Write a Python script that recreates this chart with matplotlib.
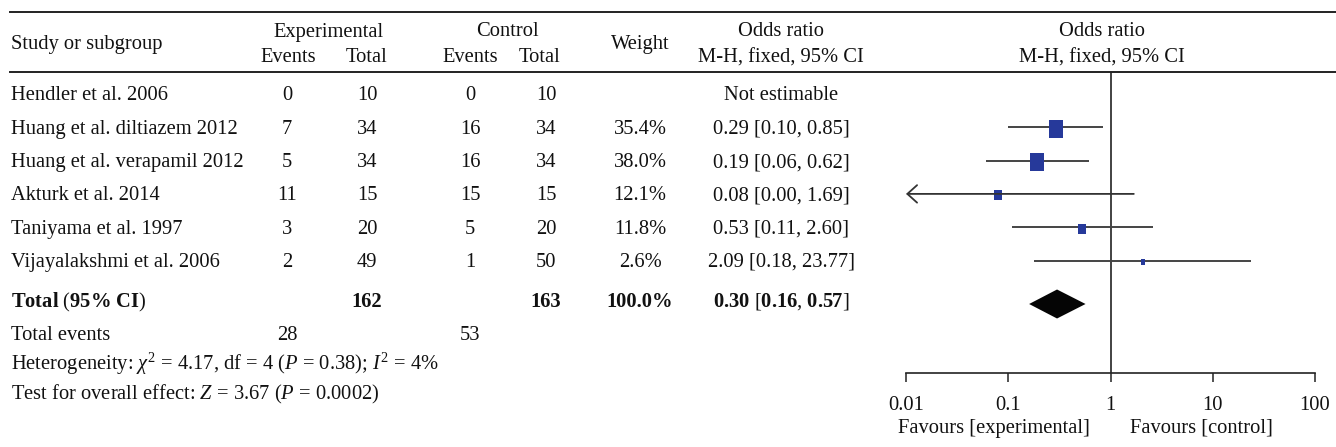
import matplotlib
matplotlib.use('Agg')
import matplotlib.pyplot as plt
from matplotlib.path import Path
from matplotlib.ticker import FixedLocator, FixedFormatter, NullLocator
import numpy as np

plt.rcParams['font.family'] = 'Liberation Serif'
plt.rcParams['mathtext.fontset'] = 'custom'
plt.rcParams['mathtext.rm'] = 'Liberation Serif'
plt.rcParams['mathtext.it'] = 'Liberation Serif:italic'
plt.rcParams['mathtext.bf'] = 'Liberation Serif:bold'

# study rows
studies = ['Hendler et al. 2006', 'Huang et al. diltiazem 2012', 'Huang et al. verapamil 2012',
           'Akturk et al. 2014', 'Taniyama et al. 1997', 'Vijayalakshmi et al. 2006']
exp_events = [0, 7, 5, 11, 3, 2]
exp_total = [10, 34, 34, 15, 20, 49]
ctl_events = [0, 16, 16, 15, 5, 1]
ctl_total = [10, 34, 34, 15, 20, 50]
weights = [None, 35.4, 38.0, 12.1, 11.8, 2.6]
odds = [None, 0.29, 0.19, 0.08, 0.53, 2.09]
ci_low = [None, 0.10, 0.06, 0.00, 0.11, 0.18]
ci_high = [None, 0.85, 0.62, 1.69, 2.60, 23.77]

# pooled result
total_exp, total_ctl = 162, 163
total_weight = 100.0
pooled_or, pooled_low, pooled_high = 0.30, 0.16, 0.57
events_exp, events_ctl = 28, 53
chi2, df, p_het, i2 = 4.17, 4, 0.38, 4
z_val, p_z = 3.67, '0.0002'

x_ticks = [0.01, 0.1, 1, 10, 100]
x_labels = ['0.01', '0.1', '1', '10', '100']

W, H = 1336, 447
FS = 14.8
blue = '#26399a'

fig = plt.figure(figsize=(W / 100, H / 100), dpi=100)

# text table drawn in pixel coordinates
tab = fig.add_axes([0, 0, 1, 1])
tab.set_xlim(0, W)
tab.set_ylim(H, 0)
tab.axis('off')

def put(x, y, s, ha='center', **kw):
    tab.text(x, y + 2, s, ha=ha, va='center', fontsize=FS, color='#111', **kw)

# column centres
c_name, c_ee, c_et, c_ce, c_ct, c_w, c_or = 11, 287, 367, 470, 546, 640, 781

tab.plot([10, W], [12, 12], color='#222', lw=1.4)
tab.plot([10, W], [72, 72], color='#222', lw=1.4)

put(c_name, 43, 'Study or subgroup', ha='left')
put(329, 30, 'Experimental')
put(288, 56, 'Events')
put(c_et, 56, 'Total')
put(507, 30, 'Control')
put(c_ce, 56, 'Events')
put(540, 56, 'Total')
put(c_w, 43, 'Weight')
put(c_or, 30, 'Odds ratio')
put(c_or, 56, 'M-H, fixed, 95% CI')
put(1102, 30, 'Odds ratio')
put(1102, 56, 'M-H, fixed, 95% CI')

row_y = 94 + 33.3 * np.arange(len(studies))
for i, y in enumerate(row_y):
    put(c_name, y, studies[i], ha='left')
    put(c_ee, y, str(exp_events[i]))
    put(c_et, y, str(exp_total[i]))
    put(c_ce, y, str(ctl_events[i]))
    put(c_ct, y, str(ctl_total[i]))
    if odds[i] is None:
        put(c_or, y, 'Not estimable')
    else:
        put(c_w, y, f'{weights[i]:.1f}%')
        put(c_or, y, f'{odds[i]:.2f} [{ci_low[i]:.2f}, {ci_high[i]:.2f}]')

y_tot = 300
put(c_name, y_tot, r'$\mathbf{Total}$ ($\mathbf{95\%\ CI}$)', ha='left')
put(c_et, y_tot, str(total_exp), fontweight='bold')
put(c_ct, y_tot, str(total_ctl), fontweight='bold')
put(c_w, y_tot, f'{total_weight:.1f}%', fontweight='bold')
put(c_or, y_tot, rf'$\mathbf{{{pooled_or:.2f}}}$ [$\mathbf{{{pooled_low:.2f}}}$, $\mathbf{{{pooled_high:.2f}}}$]')

put(c_name, 334, 'Total events', ha='left')
put(c_ee, 334, str(events_exp))
put(c_ce, 334, str(events_ctl))
put(c_name, 362, rf'Heterogeneity: $\chi^2$ = {chi2:.2f}, df = {df} ($P$ = {p_het:.2f}); $I^2$ = {i2}%', ha='left')
put(c_name, 392, rf'Test for overall effect: $Z$ = {z_val:.2f} ($P$ = {p_z})', ha='left')

# forest plot panel
x0, x1 = 906, 1315
y_top, y_axis = 72, 373
fp = fig.add_axes([x0 / W, (H - y_axis) / H, (x1 - x0) / W, (y_axis - y_top) / H])
fp.set_xscale('log')
fp.set_xlim(x_ticks[0], x_ticks[-1])
fp.set_ylim(y_axis, y_top)
fp.patch.set_alpha(0)
for s in ['top', 'left', 'right']:
    fp.spines[s].set_visible(False)
fp.spines['bottom'].set_linewidth(1.2)
fp.spines['bottom'].set_color('#222')
fp.yaxis.set_visible(False)
fp.xaxis.set_major_locator(FixedLocator(x_ticks))
fp.xaxis.set_major_formatter(FixedFormatter(x_labels))
fp.xaxis.set_minor_locator(NullLocator())
fp.tick_params(axis='x', direction='out', length=6.5, width=1.1, color='#222',
               pad=10, labelsize=FS, labelcolor='#111')

fp.axvline(1, color='#222', lw=1.2)

box = Path([(-0.41, -0.5), (0.41, -0.5), (0.41, 0.5), (-0.41, 0.5), (-0.41, -0.5)])
xmin = x_ticks[0]
for i, y in enumerate(row_y):
    if odds[i] is None:
        continue
    lo, hi = ci_low[i], ci_high[i]
    if lo < xmin:
        fp.annotate('', xy=(xmin, y), xytext=(hi, y),
                    arrowprops=dict(arrowstyle='->,head_length=0.5,head_width=0.45',
                                    color='#333', lw=1.3,
                                    shrinkA=0, shrinkB=0, mutation_scale=14))
    else:
        fp.plot([lo, hi], [y, y], color='#444', lw=1.4, solid_capstyle='butt')
    h_px = max(6, 2.9 * np.sqrt(weights[i]))
    fp.plot([odds[i]], [y + 1.5], marker=box, markersize=h_px * 0.72,
            color=blue, markeredgewidth=0, linestyle='none')

# pooled diamond
yd, hd = 304, 14.5
fp.fill([pooled_low, pooled_or, pooled_high, pooled_or],
        [yd, yd - hd, yd, yd + hd], color='#050505', lw=0)

tab.text(1090, 428, 'Favours [experimental]', ha='right', va='center', fontsize=FS, color='#111')
tab.text(1130, 428, 'Favours [control]', ha='left', va='center', fontsize=FS, color='#111')

fig.savefig('out.png', dpi=100)
